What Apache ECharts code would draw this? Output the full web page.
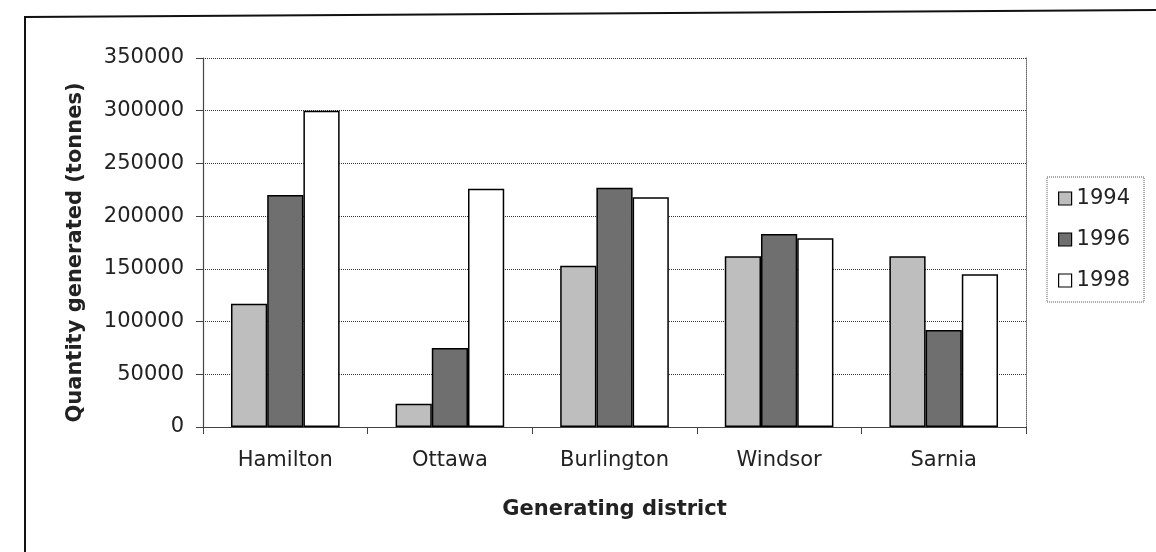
<!DOCTYPE html>
<html>
<head>
<meta charset="utf-8">
<script src="https://cdn.jsdelivr.net/npm/echarts@6/dist/echarts.min.js"></script>
<style>
html,body{margin:0;padding:0;background:#fff;}
#chart{width:1156px;height:552px;}
</style>
</head>
<body>
<div id="chart"></div>
<script>
const categories = ['Hamilton', 'Ottawa', 'Burlington', 'Windsor', 'Sarnia'];
const seriesNames = ['1994', '1996', '1998'];
const values1994 = [117000, 22000, 153000, 162000, 162000];
const values1996 = [220000, 75000, 227000, 183000, 92000];
const values1998 = [300000, 226000, 218000, 179000, 145000];
const yTicks = [0, 50000, 100000, 150000, 200000, 250000, 300000, 350000];
const xTitle = 'Generating district';
const yTitle = 'Quantity generated (tonnes)';

const seriesValues = [values1994, values1996, values1998];
const fills = ['#bebebe', '#6f6f6f', '#ffffff'];
const FONT = 'DejaVu Sans';

const chart = echarts.init(document.getElementById('chart'), null, {renderer: 'canvas'});

const yMin = yTicks[0];
const yMax = yTicks[yTicks.length - 1];
const yInterval = yTicks[1] - yTicks[0];

chart.setOption({
  backgroundColor: '#ffffff',
  animation: false,
  graphic: [{
    type: 'polyline',
    shape: {points: [[25, 560], [25, 17], [1160, 10]]},
    style: {stroke: '#111', lineWidth: 2, fill: null},
    silent: true
  }],
  grid: {left: 203, right: 130, top: 58, bottom: 125},
  legend: {
    orient: 'vertical',
    left: 1047,
    top: 177,
    padding: [11, 14, 11, 11],
    itemGap: 20,
    itemWidth: 13,
    itemHeight: 13,
    icon: 'rect',
    borderColor: '#555',
    borderWidth: 1,
    borderType: 'dotted',
    textStyle: {fontFamily: FONT, fontSize: 21, color: '#222'},
    itemStyle: {borderColor: '#000', borderWidth: 1.2},
    data: seriesNames
  },
  xAxis: {
    type: 'category',
    data: categories,
    boundaryGap: true,
    axisLine: {show: true, lineStyle: {color: '#444', width: 1.2}},
    axisTick: {show: true, length: 7, lineStyle: {color: '#444'}},
    axisLabel: {fontFamily: FONT, fontSize: 21, color: '#222', margin: 23},
    name: xTitle,
    nameLocation: 'middle',
    nameGap: 72,
    nameTextStyle: {fontFamily: FONT, fontSize: 21, fontWeight: 'bold', color: '#222'}
  },
  yAxis: [{
    type: 'value',
    min: yMin,
    max: yMax,
    interval: yInterval,
    axisLine: {show: true, lineStyle: {color: '#444', width: 1.2}},
    axisTick: {show: true, length: 7, lineStyle: {color: '#444'}},
    axisLabel: {fontFamily: FONT, fontSize: 21, color: '#222', margin: 19, formatter: v => String(v)},
    splitLine: {show: true, lineStyle: {color: '#333', width: 1, type: 'dotted'}},
    name: yTitle,
    nameLocation: 'middle',
    nameGap: 117,
    nameRotate: 90,
    nameTextStyle: {fontFamily: FONT, fontSize: 21, fontWeight: 'bold', color: '#222', padding: [0, 20, 0, 0]}
  }, {
    type: 'value',
    position: 'right',
    min: yMin,
    max: yMax,
    interval: yInterval,
    axisLine: {show: true, lineStyle: {color: '#666', width: 1, type: 'dotted'}},
    axisTick: {show: false},
    axisLabel: {show: false},
    splitLine: {show: false}
  }],
  series: seriesNames.map((name, i) => ({
    name: name,
    type: 'bar',
    yAxisIndex: 0,
    data: seriesValues[i],
    barGap: '0%',
    barCategoryGap: '34%',
    itemStyle: {color: fills[i], borderColor: '#000', borderWidth: 1.5}
  }))
});
</script>
</body>
</html>
